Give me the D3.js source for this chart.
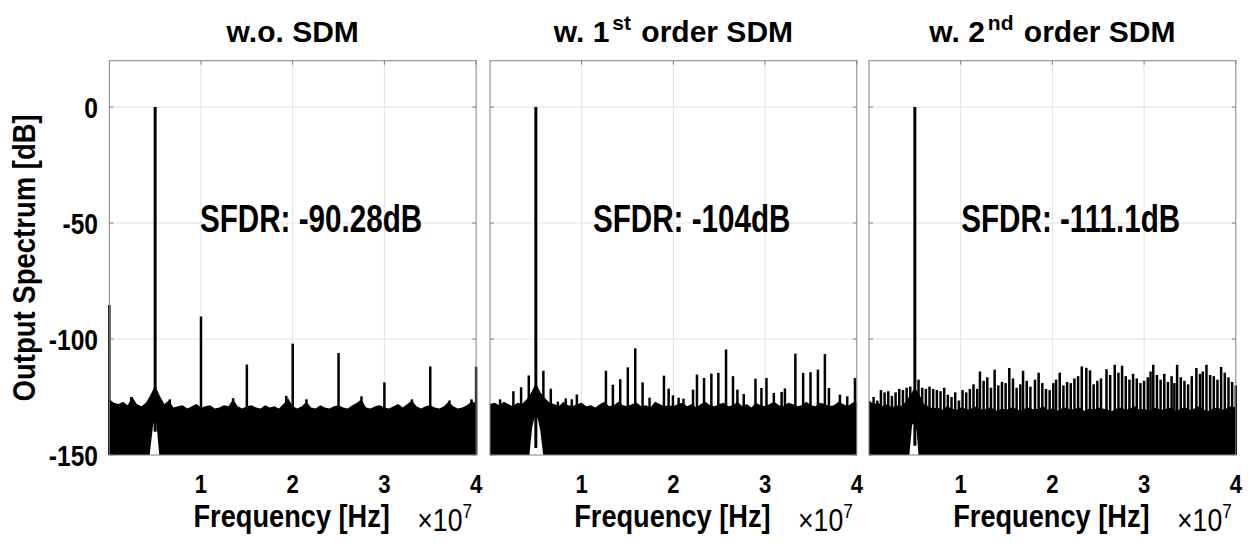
<!DOCTYPE html>
<html>
<head>
<meta charset="utf-8">
<script src="https://cdn.jsdelivr.net/npm/d3@7"></script>
<style>
  html, body { margin: 0; padding: 0; background: #fff; }
  svg { display: block; }
  .bold  { font-family: "Liberation Sans", Arial, sans-serif; font-weight: bold; }
  .plain { font-family: "Liberation Sans", Arial, sans-serif; }
</style>
</head>
<body>
<svg id="chart" width="1248" height="544"></svg>
<script>
// ---- panel titles (main text, superscript, rest) ----
const titleMain = ["w.o. SDM", "w. 1", "w. 2"];
const titleSup  = ["", "st", "nd"];
const titleRest = ["", " order SDM", " order SDM"];

// ---- SFDR annotations ----
const sfdrLabels = ["SFDR: -90.28dB", "SFDR: -104dB", "SFDR: -111.1dB"];

// ---- axes ----
const xTickValues = [10, 20, 30, 40];          // MHz
const xTickLabels = ["1", "2", "3", "4"];      // ×10^7 Hz
const yTickValues = [0, -50, -100, -150];
const yTickLabels = ["0", "-50", "-100", "-150"];

// ---- fundamental tone (MHz, dB) and lower end of its line per panel ----
const fundFreq = 5;
const fundPeak = 0;
const fundBase = [-140, -147, -146];

// ---- noise floor top, sampled every 0.5 MHz from 0 to 40 MHz ----
const floorStep = 0.5;
const floorNoSDM = [
  -126,-127.5,-128,-127,-128.5,-125,-128,-129,-127.5,-124,
  -120,-124.5,-128,-126.5,-129.5,-129,-128.5,-130,-129,-128,
  -129.5,-129,-128.5,-130,-129.5,-128.5,-129,-126,-129,-130,
  -129,-128.5,-129.5,-130,-128.5,-129.5,-129,-130,-128,-125.5,
  -129,-130,-129,-127,-129.5,-130,-128.5,-129.5,-130,-129,
  -128.5,-129.5,-130,-128.5,-127.5,-126,-129.5,-130,-129,-128.5,
  -129.5,-130,-129,-128,-129.5,-128,-126.5,-129,-130,-129,
  -128.5,-129.5,-130,-129,-127,-129,-130,-129.5,-128.5,-127,
  -127.5
];
const floorSDM1 = [
  -128,-127.5,-128.5,-127,-128,-129,-127.5,-128,-126,-123,
  -119,-123,-125.5,-127.5,-128,-129,-127,-128.5,-129,-128,
  -127.5,-129,-128.5,-129.5,-128,-127,-129,-128.5,-127,-128.5,
  -129,-128,-127.5,-129,-128.5,-129.5,-127,-128,-129,-128.5,
  -129,-128,-127.5,-129,-128,-129.5,-128,-127,-128.5,-129,
  -128,-127.5,-129,-128.5,-127,-129,-128,-129.5,-127.5,-128.5,
  -129,-128,-127,-128.5,-129,-127.5,-128,-129,-128.5,-127,
  -128.5,-129,-127.5,-128,-129,-128.5,-127,-128,-129,-127.5,
  -127
];
const floorSDM2 = [
  -126.5,-128,-127.5,-129,-128,-129.5,-128.5,-129,-127,-124,
  -121,-124,-128,-129,-130,-129.5,-130.5,-129,-130,-130.5,
  -129.5,-130,-130.5,-129,-130,-130.5,-129.5,-130,-131,-130,
  -130.5,-129.5,-130,-131,-130,-129.5,-130.5,-130,-129,-130.5,
  -130,-131,-130,-129.5,-130.5,-130,-129.5,-131,-130,-130.5,
  -129.5,-130,-130.5,-131,-130,-129.5,-130.5,-130,-129,-130.5,
  -130,-131,-129.5,-130,-130.5,-130,-129.5,-131,-130,-129.5,
  -130.5,-130,-129,-130.5,-131,-130,-129.5,-130.5,-130,-129,
  -129.5
];

// ---- gap under the tone where the floor does not reach -150 dB (MHz, dB) ----
const notchNoSDM = [[4.4, -150], [4.75, -138], [5.0, -133], [5.2, -139], [5.45, -150]];
const notchSDM1  = [[4.3, -150], [4.6, -138], [4.85, -134], [5.2, -134], [5.5, -140], [5.8, -150]];
const notchSDM2  = [[4.4, -150], [4.7, -137], [5.0, -136], [5.2, -140], [5.4, -150]];

// ---- spurs (MHz, dB) ----
const spursNoSDM = [
  [0, -85.3], [10, -90.28], [15, -111], [20, -102], [25, -106], [30, -118.7], [35, -111.8], [40, -112],
  [2.4, -125], [6.6, -126], [13.5, -125.5], [19.3, -124.5], [21.5, -126], [27.5, -124.7],
  [33, -126], [37.1, -126.5], [39.5, -126]
];
const spursSDM1 = [
  [1.1, -126], [2.55, -122.5], [3.39, -120.8], [4.23, -115.7], [5.82, -113.7], [6.63, -121.4],
  [7.4, -127], [8.26, -125.6], [8.92, -126], [9.47, -123.9], [12.64, -113.7], [13.4, -119.7],
  [14.2, -117.3], [15.03, -112.2], [15.84, -104], [16.64, -118.7], [17.4, -125.3], [18.97, -115.8],
  [19.48, -121.4], [19.95, -124.3], [20.57, -125.3], [21.1, -125.7], [22.14, -121.8], [22.57, -115.3],
  [23.34, -116.8], [24.14, -114.9], [24.9, -114.6], [25.74, -104.5], [26.5, -116], [26.98, -121.8],
  [27.67, -123.7], [28.95, -117.1], [29.6, -121.1], [30.15, -116.8], [30.95, -123.2], [31.8, -122.8],
  [32.16, -121.3], [33.3, -106.3], [34.15, -114.6], [34.95, -114.3], [35.76, -113.2], [36.52, -106.5],
  [36.96, -121.1], [38.16, -124], [38.96, -124.7], [39.8, -116.8]
];
const spursSDM2 = [
  [0.5, -125], [0.9, -126.5], [1.3, -122], [1.7, -123], [2.1, -122.5], [2.5, -124.5], [2.9, -123],
  [3.3, -121.5], [3.7, -122], [4.1, -121], [4.5, -120.5], [5.4, -117.5], [5.8, -121], [6.2, -121.5],
  [6.6, -120.5], [7.0, -121.5], [7.4, -122], [7.8, -122.5], [8.2, -121], [8.6, -124], [9.0, -125],
  [9.4, -123], [9.8, -126.5], [10.2, -122], [10.6, -123], [11.0, -121.5], [11.4, -119.5], [11.8, -121.5],
  [12.1, -114], [12.5, -118], [12.9, -116.5], [13.3, -121], [13.7, -113.2], [14.1, -120], [14.5, -118.5],
  [14.9, -119], [15.3, -112.5], [15.7, -117], [16.1, -121], [16.5, -119.5], [16.8, -113.7], [17.2, -118],
  [17.6, -120.5], [18.1, -117.5], [18.5, -114.5], [18.9, -119], [19.3, -121.5], [19.7, -122], [20.1, -119],
  [20.4, -117.5], [20.8, -114.5], [21.2, -120], [21.6, -118.5], [22.0, -119], [22.4, -117], [22.8, -116],
  [23.2, -111.8], [23.7, -112.4], [24.1, -113.5], [24.5, -119.5], [24.9, -118], [25.3, -117], [25.9, -113],
  [26.3, -115.5], [26.8, -111.1], [27.2, -114.5], [27.6, -111.5], [28.0, -116], [28.4, -117.5], [28.8, -115],
  [29.2, -117], [29.6, -119], [30.0, -118], [30.4, -116.5], [30.7, -114], [31.0, -111.1], [31.4, -115.5],
  [31.8, -117.5], [32.2, -115], [32.6, -118.5], [33.0, -116], [33.3, -119], [33.6, -111.1], [34.0, -116.5],
  [34.4, -118], [34.8, -119.5], [35.2, -116], [35.7, -112.5], [36.1, -115], [36.4, -114], [36.8, -111.1],
  [37.2, -115.5], [37.6, -116], [38.0, -117.5], [38.4, -112], [38.8, -114.5], [39.2, -116.5], [39.6, -118.5],
  [40.0, -120]
];

const floors = [floorNoSDM, floorSDM1, floorSDM2];
const notches = [notchNoSDM, notchSDM1, notchSDM2];
const spurs = [spursNoSDM, spursSDM1, spursSDM2];

// ---- layout ----
const panelLeft = [109.3, 490, 869];
const panelWidth = 366.8;
const plotTop = 60.7, plotBottom = 455;
const boxColor = "#808080", gridColor = "#e2e2e2";

const svg = d3.select("#chart");

// condensed text: placed via a transform with horizontal squeeze
function squeezed(parent, cls, px, py, size, sx, anchor, extra) {
  return parent.append("text")
    .attr("class", cls)
    .attr("transform", `translate(${px},${py})${extra || ""} scale(${sx},1)`)
    .attr("text-anchor", anchor)
    .attr("font-size", size);
}

// shared y axis label
squeezed(svg, "bold", 35, (plotTop + plotBottom) / 2, 32, 0.86, "middle", " rotate(-90)")
  .text("Output Spectrum [dB]");

panelLeft.forEach((left, i) => {
  const x = d3.scaleLinear().domain([0, 40]).range([left, left + panelWidth]);
  const y = d3.scaleLinear().domain([-150, 20]).range([plotBottom, plotTop]);
  const g = svg.append("g");

  // grid
  g.selectAll(".vgrid").data(xTickValues.slice(0, 3)).join("line")
    .attr("x1", d => x(d)).attr("x2", d => x(d))
    .attr("y1", plotTop).attr("y2", plotBottom)
    .attr("stroke", gridColor).attr("stroke-width", 1);
  g.selectAll(".hgrid").data(yTickValues.slice(0, 3)).join("line")
    .attr("x1", left).attr("x2", left + panelWidth)
    .attr("y1", d => y(d)).attr("y2", d => y(d))
    .attr("stroke", gridColor).attr("stroke-width", 1);

  // dense noise floor
  const floorPts = floors[i].map((v, k) => [k * floorStep, v]);
  g.append("path")
    .datum(floorPts)
    .attr("d", d3.area().x(d => x(d[0])).y0(y(-150)).y1(d => y(d[1])))
    .attr("fill", "#000");

  // spurs
  g.selectAll(".spur").data(spurs[i]).join("line")
    .attr("x1", d => x(d[0])).attr("x2", d => x(d[0]))
    .attr("y1", y(-150)).attr("y2", d => y(d[1]))
    .attr("stroke", "#000").attr("stroke-width", 2.5);

  // gap below the tone
  g.append("path")
    .datum(notches[i])
    .attr("d", d3.line().x(d => x(d[0])).y(d => y(d[1])))
    .attr("fill", "#fff");

  // fundamental
  g.append("line")
    .attr("x1", x(fundFreq)).attr("x2", x(fundFreq))
    .attr("y1", y(fundBase[i])).attr("y2", y(fundPeak))
    .attr("stroke", "#000").attr("stroke-width", 3);

  // box
  g.append("rect")
    .attr("x", left).attr("y", plotTop)
    .attr("width", panelWidth).attr("height", plotBottom - plotTop)
    .attr("fill", "none").attr("stroke", boxColor).attr("stroke-width", 1);

  // inward ticks
  const tl = 4;
  yTickValues.forEach(v => {
    g.append("line").attr("x1", left).attr("x2", left + tl).attr("y1", y(v)).attr("y2", y(v)).attr("stroke", boxColor);
    g.append("line").attr("x1", left + panelWidth).attr("x2", left + panelWidth - tl).attr("y1", y(v)).attr("y2", y(v)).attr("stroke", boxColor);
  });
  xTickValues.forEach(v => {
    g.append("line").attr("x1", x(v)).attr("x2", x(v)).attr("y1", plotTop).attr("y2", plotTop + tl).attr("stroke", boxColor);
  });

  // x tick labels
  xTickValues.forEach((v, k) => {
    squeezed(g, "bold", x(v), 493, 26, 0.85, "middle").text(xTickLabels[k]);
  });

  // y tick labels on first panel only
  if (i === 0) {
    yTickValues.forEach((v, k) => {
      squeezed(g, "bold", 98, y(v) + 10.5, 30, 0.82, "end").text(yTickLabels[k]);
    });
  }

  // x label and exponent
  squeezed(g, "bold", left + panelWidth / 2 - 1, 527, 32, 0.85, "middle").text("Frequency [Hz]");
  const ex = squeezed(g, "plain", left + panelWidth - 4, 531, 31, 0.86, "end");
  ex.append("tspan").text("\u00d710");
  ex.append("tspan").attr("font-size", 20).attr("dy", -13).text("7");

  // title
  const t = g.append("text").attr("class", "bold")
    .attr("x", left + panelWidth / 2).attr("y", 42)
    .attr("text-anchor", "middle").attr("font-size", 30);
  t.append("tspan").text(titleMain[i]);
  if (titleSup[i]) {
    t.append("tspan").attr("font-size", 21).attr("dx", 3).attr("dy", -12).text(titleSup[i]);
    t.append("tspan").attr("dx", 2).attr("dy", 12).text(titleRest[i]);
  }

  // SFDR annotation
  squeezed(g, "bold", x(22), y(-54), 38, 0.78, "middle").text(sfdrLabels[i]);
});
</script>
</body>
</html>
